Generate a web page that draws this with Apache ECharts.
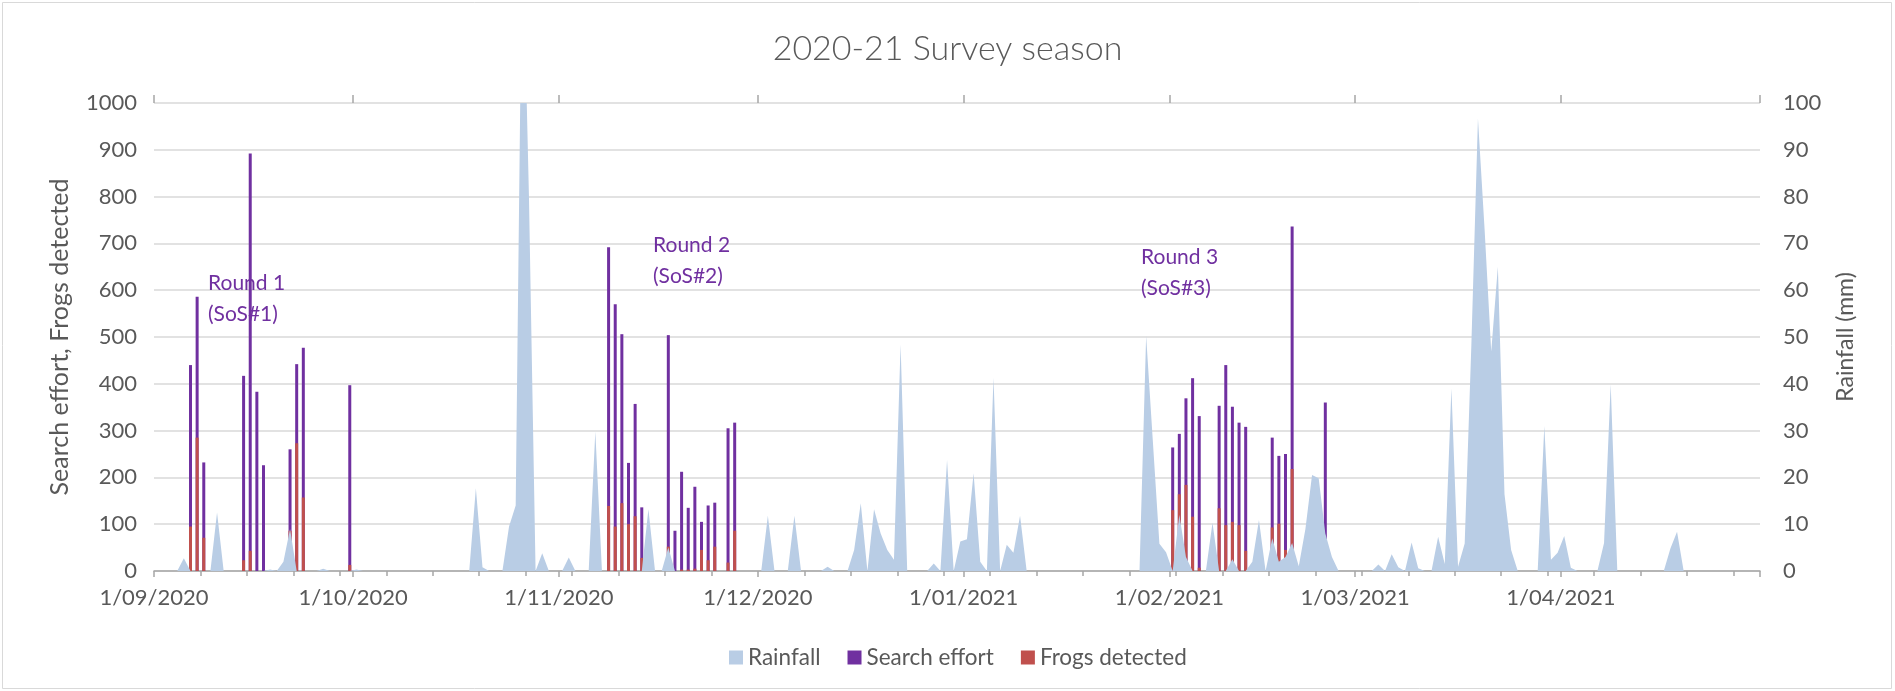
<!DOCTYPE html>
<html>
<head>
<meta charset="utf-8">
<title>2020-21 Survey season</title>
<script src="https://cdn.jsdelivr.net/npm/echarts@6/dist/echarts.min.js"></script>
<style>
  html, body { margin: 0; padding: 0; background: #ffffff; }
  #chart { width: 1895px; height: 691px; }
</style>
</head>
<body>
<div id="chart"></div>
<script>
// Season span shown on the date axis
const seasonStart = '2020-09-01';
const seasonEnd = '2021-05-01';

// Month ticks and their labels
const monthTickDates = ['2020-09-01', '2020-10-01', '2020-11-01', '2020-12-01',
                        '2021-01-01', '2021-02-01', '2021-03-01', '2021-04-01'];
const monthTickLabels = ['1/09/2020', '1/10/2020', '1/11/2020', '1/12/2020',
                         '1/01/2021', '1/02/2021', '1/03/2021', '1/04/2021'];

// Daily rainfall (mm), one array per month, starting on the 1st
const rainSep = [0, 0, 0, 0, 2.7, 0, 0, 0, 0, 12.5, 0, 0, 0, 0, 0, 0, 0, 0.3, 0, 2,
                 9, 0, 0, 0, 0, 0.5, 0, 0, 0, 0];
const rainOct = [0.3, 0, 0, 0, 0, 0, 0, 0, 0, 0, 0, 0, 0, 0, 0, 0, 0, 0, 17.7, 0.8,
                 0, 0, 0, 9.5, 14, 140, 80, 0, 3.8, 0, 0];
const rainNov = [0, 2.9, 0, 0, 0, 29.8, 0, 0, 0, 0, 0, 0, 0, 13.2, 0, 0, 5, 0, 0, 0,
                 0, 0, 0, 0, 0, 0, 0, 0, 0, 0];
const rainDec = [0, 11.8, 0, 0, 0, 11.8, 0, 0, 0, 0, 0.9, 0, 0, 0, 4.5, 14.5, 0, 13.2, 8, 4.5,
                 2.4, 48.4, 0, 0, 0, 0, 1.6, 0, 23.7, 0, 6.3];
const rainJan = [6.8, 20.9, 2, 0, 41.3, 0, 5.6, 3.9, 11.8, 0, 0, 0, 0, 0, 0, 0, 0, 0, 0, 0,
                 0, 0, 0, 0, 0, 0, 0, 50.2, 28, 5.8, 4];
const rainFeb = [0, 12, 3, 0, 0, 0, 10.3, 0, 0, 2.5, 0, 0, 2, 10.9, 0, 7, 2, 3, 6, 1,
                 9, 20.5, 19.8, 8, 3, 0, 0, 0];
const rainMar = [0, 0, 0, 1.4, 0, 3.6, 0.8, 0, 6.1, 0.6, 0, 0, 7.3, 1.5, 39, 0.9, 5.9, 48, 96.7, 73,
                 46.9, 65, 16.4, 4.5, 0, 0, 0, 0, 31, 2.4, 3.9];
const rainApr = [7.5, 0.7, 0, 0, 0, 0, 6, 39.9, 0, 0, 0, 0, 0, 0, 0, 0, 4.8, 8.4, 0, 0,
                 0, 0, 0, 0, 0, 0, 0, 0, 0, 0];

// Survey nights: search effort and frogs detected
const surveyDates = [
  '2020-09-06', '2020-09-07', '2020-09-08', '2020-09-14', '2020-09-15', '2020-09-16', '2020-09-17',
  '2020-09-21', '2020-09-22', '2020-09-23', '2020-09-30',
  '2020-11-08', '2020-11-09', '2020-11-10', '2020-11-11', '2020-11-12', '2020-11-13',
  '2020-11-17', '2020-11-18', '2020-11-19', '2020-11-20', '2020-11-21', '2020-11-22',
  '2020-11-23', '2020-11-24', '2020-11-26', '2020-11-27',
  '2021-02-01', '2021-02-02', '2021-02-03', '2021-02-04', '2021-02-05',
  '2021-02-08', '2021-02-09', '2021-02-10', '2021-02-11', '2021-02-12',
  '2021-02-16', '2021-02-17', '2021-02-18', '2021-02-19', '2021-02-24'
];
const searchEffort = [
  440, 586, 232, 417, 892, 383, 226,
  260, 442, 477, 397,
  692, 570, 506, 231, 357, 136,
  504, 86, 212, 135, 180, 105,
  140, 146, 305, 317,
  264, 293, 369, 412, 331,
  353, 440, 351, 317, 308,
  285, 246, 250, 736, 360
];
const frogsDetected = [
  95, 285, 71, 23, 43, 0, 0,
  86, 273, 157, 13,
  139, 95, 145, 100, 117, 28,
  52, 0, 3, 3, 5, 45,
  23, 52, 18, 86,
  130, 164, 184, 116, 7,
  134, 98, 105, 98, 43,
  93, 101, 45, 218, 31
];

// Survey round notes
const roundNotes = ['Round 1\n(SoS#1)', 'Round 2\n(SoS#2)', 'Round 3\n(SoS#3)'];

const TEXT = '#595959';
const FONT = 'Lato, "Open Sans", sans-serif';

function dayIndex(iso) {
  const p = iso.split('-').map(Number);
  const s = seasonStart.split('-').map(Number);
  return Math.round((Date.UTC(p[0], p[1] - 1, p[2]) - Date.UTC(s[0], s[1] - 1, s[2])) / 86400000);
}

const totalDays = dayIndex(seasonEnd);
const monthTicks = monthTickDates.map(dayIndex);
const weekTicks = [];
for (let d = 0; d <= totalDays; d += 7) weekTicks.push(d);

// each day occupies [d, d+1] on the axis; marks sit in the middle of their day
const rainDaily = [].concat(rainSep, rainOct, rainNov, rainDec, rainJan, rainFeb, rainMar, rainApr);
const rainData = rainDaily.map((v, i) => [i + 0.5, v]);
const effortData = surveyDates.map((d, i) => [dayIndex(d) + 0.5, searchEffort[i]]);
const frogsData = surveyDates.map((d, i) => [dayIndex(d) + 0.5, frogsDetected[i]]);

const chart = echarts.init(document.getElementById('chart'), null, { renderer: 'canvas' });

const baseX = {
  type: 'value',
  min: 0,
  max: totalDays,
  splitLine: { show: false },
  axisLabel: { show: false },
  axisLine: { show: false }
};

const noteStyle = { fill: '#7030A0', font: '21px ' + FONT, lineHeight: 31 };

chart.setOption({
  animation: false,
  backgroundColor: '#ffffff',
  title: {
    text: '2020-21 Survey season',
    left: 'center',
    top: 27,
    textStyle: { color: TEXT, fontFamily: FONT, fontSize: 34, fontWeight: 300 }
  },
  legend: {
    bottom: 17,
    left: 724,
    icon: 'rect',
    itemWidth: 14,
    itemHeight: 14,
    itemGap: 27,
    textStyle: { color: TEXT, fontFamily: FONT, fontSize: 22.5 },
    data: ['Rainfall', 'Search effort', 'Frogs detected']
  },
  grid: { left: 154, right: 135, top: 103, bottom: 120 },
  xAxis: [
    Object.assign({}, baseX, {
      axisLine: { show: true, lineStyle: { color: '#a6a6a6', width: 1.5 } },
      axisTick: { show: true, customValues: weekTicks, length: 5, lineStyle: { color: '#a6a6a6', width: 1.5 } },
      axisLabel: {
        show: true,
        customValues: monthTicks,
        margin: 16,
        color: TEXT,
        fontFamily: FONT,
        fontSize: 22,
        formatter: v => monthTickLabels[monthTicks.indexOf(Math.round(v))] || ''
      }
    }),
    Object.assign({}, baseX, {
      axisTick: { show: true, inside: true, customValues: monthTicks.concat([totalDays]), length: 6,
                  lineStyle: { color: '#a6a6a6', width: 1.5 } }
    }),
    Object.assign({}, baseX, {
      axisTick: { show: true, customValues: monthTicks.concat([totalDays]), length: 8,
                  lineStyle: { color: '#a6a6a6', width: 1.5 } }
    })
  ],
  yAxis: [
    {
      type: 'value',
      min: 0,
      max: 1000,
      interval: 100,
      name: 'Search effort, Frogs detected',
      nameLocation: 'middle',
      nameGap: 82,
      nameRotate: 90,
      nameTextStyle: { color: TEXT, fontFamily: FONT, fontSize: 25 },
      axisLine: { show: false },
      axisTick: { show: false },
      axisLabel: { color: TEXT, fontFamily: FONT, fontSize: 22, margin: 17, formatter: v => String(v) },
      splitLine: { lineStyle: { color: '#d9d9d9', width: 1.5 } }
    },
    {
      type: 'value',
      min: 0,
      max: 100,
      interval: 10,
      name: 'Rainfall (mm)',
      nameLocation: 'middle',
      nameGap: 74,
      nameRotate: 90,
      nameTextStyle: { color: TEXT, fontFamily: FONT, fontSize: 23 },
      axisLine: { show: false },
      axisTick: { show: false },
      axisLabel: { color: TEXT, fontFamily: FONT, fontSize: 22, margin: 23, formatter: v => String(v) },
      splitLine: { show: false }
    }
  ],
  series: [
    {
      name: 'Rainfall',
      type: 'line',
      yAxisIndex: 1,
      data: rainData,
      symbol: 'none',
      clip: true,
      itemStyle: { color: '#B9CDE5' },
      lineStyle: { width: 0, color: '#B9CDE5' },
      areaStyle: { color: '#B9CDE5', opacity: 1 }
    },
    {
      name: 'Search effort',
      type: 'bar',
      data: effortData,
      barWidth: 3,
      barGap: '-100%',
      itemStyle: { color: '#7030A0' }
    },
    {
      name: 'Frogs detected',
      type: 'bar',
      data: frogsData,
      barWidth: 3,
      barGap: '-100%',
      itemStyle: { color: '#C0504D' }
    }
  ],
  graphic: [
    { type: 'rect', silent: true, z: -1,
      shape: { x: 2.5, y: 2.5, width: 1889, height: 686 },
      style: { fill: null, stroke: '#d9d9d9', lineWidth: 1 } },
    { type: 'text', z: 10, left: 208, top: 268, style: Object.assign({ text: roundNotes[0] }, noteStyle) },
    { type: 'text', z: 10, left: 653, top: 230, style: Object.assign({ text: roundNotes[1] }, noteStyle) },
    { type: 'text', z: 10, left: 1141, top: 242, style: Object.assign({ text: roundNotes[2] }, noteStyle) }
  ]
});
</script>
</body>
</html>
